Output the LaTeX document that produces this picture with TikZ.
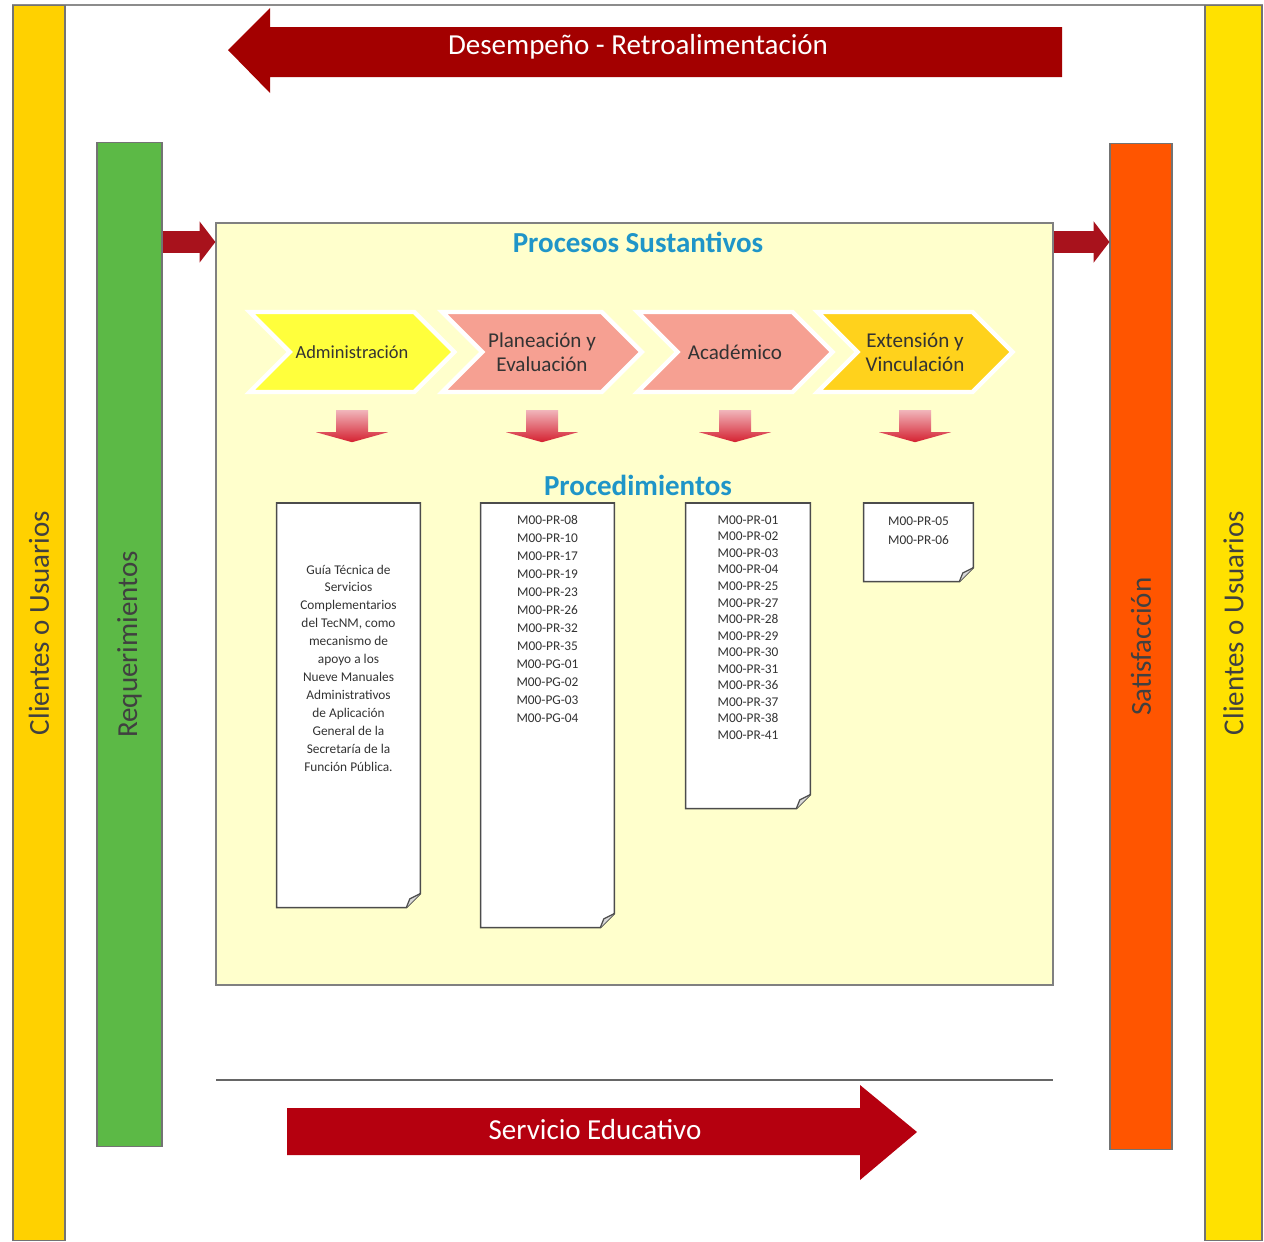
\documentclass[tikz,border=0pt]{standalone}
\usepackage{fontspec}
\setmainfont{Carlito}
\usepackage{tikz}
\usetikzlibrary{shapes.symbols,arrows.meta}
\usetikzlibrary{positioning}

\definecolor{rojoFlecha}{HTML}{A30000}
\definecolor{rojoServicio}{HTML}{B5000F}
\definecolor{rojoChico}{HTML}{A8121C}
\definecolor{amarilloIzq}{HTML}{FFD100}
\definecolor{amarilloDer}{HTML}{FFE100}
\definecolor{verdeReq}{HTML}{5CB946}
\definecolor{naranjaSat}{HTML}{FF5500}
\definecolor{fondoProc}{HTML}{FFFFCC}
\definecolor{azulTitulo}{HTML}{1F95C8}
\definecolor{chevAmarillo}{HTML}{FFFF3C}
\definecolor{chevSalmon}{HTML}{F6A092}
\definecolor{chevOro}{HTML}{FFD21C}
\definecolor{rojoBajada}{HTML}{D42030}

\tikzset{
  barra/.style={draw=black!55, line width=0.6pt, inner sep=0pt, text=black!75,
    font=\fontsize{16.5}{20}\selectfont},
  chevron/.style={signal, signal from=west, signal to=east, draw=white,
    line width=2.5pt, minimum width=3.9cm, minimum height=1.6cm, align=center,
    text=black!80, font=\fontsize{12}{13.6}\selectfont},
  hoja/.style={inner sep=0pt},
  lista/.style={align=center, text=black!80, inner sep=0pt,
    font=\fontsize{7.6}{10.2}\selectfont},
  titulo/.style={text=azulTitulo, font=\bfseries\fontsize{16.5}{20}\selectfont},
  rotulo/.style={text=white, font=\fontsize{16.5}{20}\selectfont},
  flechita/.style={line width=12.5pt, rojoChico, -{Triangle[width=23pt,length=9pt]}}
}

\begin{document}
\begin{tikzpicture}[x=0.02cm, y=-0.02cm]
\useasboundingbox (0,0) rectangle (1264,1241);
% marco
\draw[black!45, line width=0.8pt] (13,1241) -- (13,5) -- (1262,5) -- (1262,1241);
% barras laterales
\node[barra, fill=amarilloIzq, minimum width=1.04cm, minimum height=24.72cm] (cli1) at (39,623) {\rotatebox{90}{Clientes o Usuarios}};
\node[barra, fill=amarilloDer, minimum width=1.14cm, minimum height=24.72cm] (cli2) at (1233.5,623) {\rotatebox{90}{Clientes o Usuarios}};
\node[barra, fill=verdeReq, minimum width=1.3cm, minimum height=20.1cm] (req) at (129.5,644.5) {\rotatebox{90}{Requerimientos}};
\node[barra, fill=naranjaSat, minimum width=1.24cm, minimum height=20.14cm] (sat) at (1141,646.5) {\rotatebox{90}{Satisfacción}};
% flecha superior
\fill[rojoFlecha] (228,50) -- (270,8) -- (270,27) -- (1062,27) -- (1062,77) -- (270,77) -- (270,93) -- cycle;
\node[rotulo] (retro) at (638,47) {Desempeño - Retroalimentación};
% procesos
\node[draw=black!50, fill=fondoProc, line width=0.8pt, minimum width=16.74cm, minimum height=15.24cm] (main) at (634.5,604) {};
\node[titulo] (pst) at (638,242) {Procesos Sustantivos};
\draw[flechita] (req.east |- pst) -- (main.west |- pst);
\draw[flechita] (main.east |- pst) -- (sat.west |- pst);
\node[chevron, fill=chevAmarillo, font=\fontsize{10.5}{12}\selectfont] (adm) at (352,352) {Administración};
\node[chevron, fill=chevSalmon] (pla) at (542,352) {Planeación y\\Evaluación};
\node[chevron, fill=chevSalmon] (aca) at (735,352) {Académico};
\node[chevron, fill=chevOro] (ext) at (915,352) {Extensión y\\Vinculación};
\foreach \c in {adm,pla,aca,ext}
  \shade[top color=white, bottom color=rojoBajada] (\c.south) ++(-16,16) -- ++(32,0) -- ++(0,22) -- ++(20,0) -- ++(-36,10) -- ++(-36,-10) -- ++(20,0) -- cycle;
% procedimientos
\node[titulo] (proc) at (638,485) {Procedimientos};
\node[hoja, minimum width=2.86cm, minimum height=8.08cm, anchor=north] (doc1) at (348.5,503) {};
\node[hoja, minimum width=2.66cm, minimum height=8.48cm, anchor=north] (doc2) at (547.5,503) {};
\node[hoja, minimum width=2.48cm, minimum height=6.1cm, anchor=north] (doc3) at (748,503) {};
\node[hoja, minimum width=2.18cm, minimum height=1.56cm, anchor=north] (doc4) at (918.5,503) {};
\foreach \d in {doc1,doc2,doc3,doc4} {
  \draw[black!70, fill=white, line width=0.9pt] (\d.north west) -- (\d.north east) -- ([yshift=8pt]\d.south east) -- ([xshift=-8pt]\d.south east) -- (\d.south west) -- cycle;
  \draw[black!70, fill=black!15, line width=0.7pt] ([yshift=8pt]\d.south east) -- ([xshift=-6pt,yshift=5pt]\d.south east) -- ([xshift=-8pt]\d.south east);
}
\node[lista] (txt1) at (348.5,668) {Guía Técnica de\\Servicios\\Complementarios\\del TecNM, como\\mecanismo de\\apoyo a los\\Nueve Manuales\\Administrativos\\de Aplicación\\General de la\\Secretaría de la\\Función Pública.};
\node[lista] (txt2) at (547.5,619) {M00-PR-08\\M00-PR-10\\M00-PR-17\\M00-PR-19\\M00-PR-23\\M00-PR-26\\M00-PR-32\\M00-PR-35\\M00-PG-01\\M00-PG-02\\M00-PG-03\\M00-PG-04};
\node[lista, font=\fontsize{7.6}{9.4}\selectfont] (txt3) at (748,627.5) {M00-PR-01\\M00-PR-02\\M00-PR-03\\M00-PR-04\\M00-PR-25\\M00-PR-27\\M00-PR-28\\M00-PR-29\\M00-PR-30\\M00-PR-31\\M00-PR-36\\M00-PR-37\\M00-PR-38\\M00-PR-41};
\node[lista, font=\fontsize{7.6}{10.8}\selectfont] (txt4) at (918.5,530.5) {M00-PR-05\\M00-PR-06};
% servicio educativo
\draw[black!60, line width=1.2pt] (216,1080) -- (1053,1080);
\fill[rojoServicio] (287,1108) -- (860,1108) -- (860,1085) -- (917,1132) -- (860,1180) -- (860,1155) -- (287,1155) -- cycle;
\node[rotulo] (serv) at (595,1130) {Servicio Educativo};
\end{tikzpicture}
\end{document}
